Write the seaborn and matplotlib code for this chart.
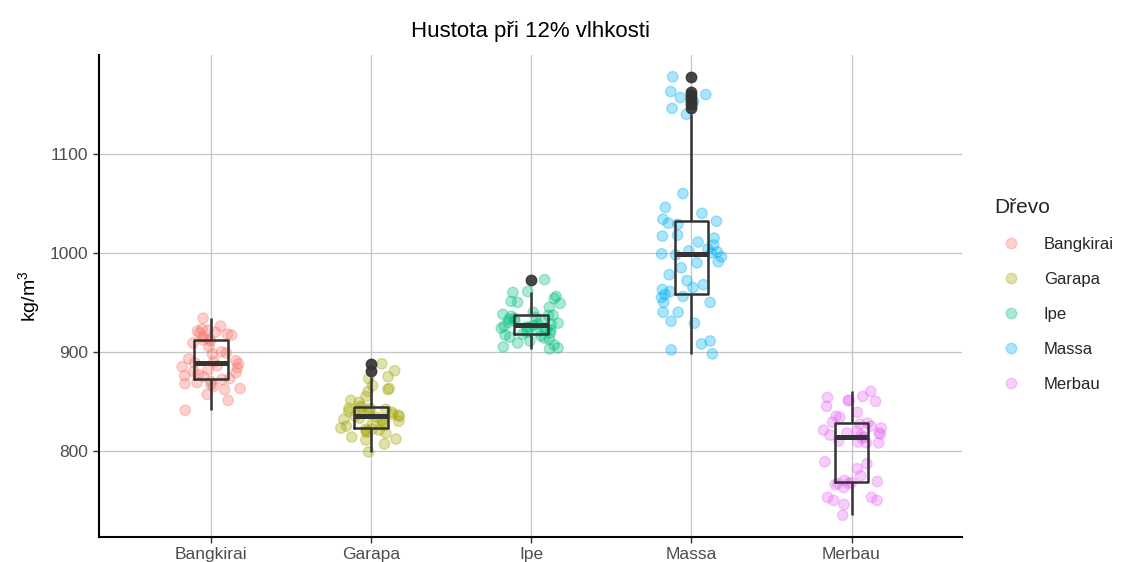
import numpy as np
import pandas as pd
import matplotlib
matplotlib.use("Agg")
import matplotlib.pyplot as plt
from matplotlib.lines import Line2D
import seaborn as sns

# Wood species and measured densities at 12 % moisture (kg/m3)
species = ["Bangkirai", "Garapa", "Ipe", "Massa", "Merbau"]

bangkirai = [841, 851, 857, 862, 863, 865, 867, 868, 869, 870, 872, 873, 875, 876,
             877, 879, 880, 882, 884, 885, 886, 888, 889, 890, 891, 893, 898, 899,
             900, 905, 909, 911, 912, 913, 915, 917, 918, 919, 920, 921, 922, 923,
             926, 934]
garapa = [799, 807, 811, 812, 814, 818, 819, 820, 821, 822, 822, 823, 825, 826,
          828, 829, 830, 831, 832, 833, 834, 835, 835, 836, 837, 838, 839, 840,
          840, 841, 842, 843, 843, 844, 845, 849, 851, 855, 860, 862, 863, 866,
          873, 875, 881, 888]
ipe = [903, 904, 905, 907, 909, 911, 913, 914, 915, 916, 917, 918, 919, 920,
       921, 922, 922, 923, 924, 925, 925, 926, 927, 928, 928, 929, 930, 931,
       932, 933, 934, 935, 936, 937, 937, 938, 940, 945, 949, 950, 951, 954,
       956, 960, 961, 973]
massa = [898, 902, 908, 911, 929, 931, 940, 940, 950, 950, 955, 956, 958, 961,
         963, 965, 968, 972, 978, 985, 990, 991, 996, 998, 999, 1000, 1001, 1002,
         1004, 1008, 1011, 1015, 1017, 1018, 1029, 1030, 1032, 1034, 1040, 1046,
         1060, 1140, 1146, 1150, 1153, 1157, 1160, 1163, 1178]
merbau = [735, 746, 750, 750, 753, 753, 763, 766, 767, 767, 768, 769, 770, 775,
          782, 787, 789, 808, 808, 809, 810, 813, 814, 816, 816, 817, 818, 818,
          820, 821, 823, 825, 827, 828, 829, 834, 835, 839, 845, 850, 851, 851,
          854, 855, 860]

colors = ["#F8766D", "#A3A500", "#00BF7D", "#00B0F6", "#E76BF3"]
y_ticks = [800, 900, 1000, 1100]

values = [bangkirai, garapa, ipe, massa, merbau]
df = pd.DataFrame({
    "Dřevo": np.repeat(species, [len(v) for v in values]),
    "hustota": np.concatenate(values),
})

sns.set_theme(style="white")
plt.rcParams["font.family"] = ["Liberation Sans", "DejaVu Sans"]
plt.rcParams["mathtext.fontset"] = "custom"
plt.rcParams["mathtext.rm"] = "Liberation Sans"
plt.rcParams["mathtext.it"] = "Liberation Sans"

fig = plt.figure(figsize=(11.27, 5.62), dpi=100)
ax = fig.add_axes([0.0878, 0.0445, 0.7658, 0.8577])

np.random.seed(7)
sns.stripplot(data=df, x="Dřevo", y="hustota", hue="Dřevo", order=species,
              hue_order=species, palette=colors, jitter=0.19, size=7.5,
              alpha=0.33, linewidth=1.0, edgecolor="face", legend=False,
              ax=ax, zorder=2)

sns.boxplot(data=df, x="Dřevo", y="hustota", order=species, fill=False,
            color="#333333", width=0.21, linewidth=1.8, whis=1.5,
            showcaps=False,
            medianprops=dict(linewidth=3.6, color="#333333"),
            flierprops=dict(marker="o", markersize=7.5,
                            markerfacecolor="#333333",
                            markeredgecolor="#333333", alpha=0.9),
            ax=ax)

ax.set_xlim(-0.7, 4.69)
ax.set_ylim(713, 1200)
ax.set_yticks(y_ticks)
ax.grid(True, color="#C4C4C4", linewidth=0.9)
ax.set_axisbelow(True)
for side in ["top", "right"]:
    ax.spines[side].set_visible(False)
for side in ["left", "bottom"]:
    ax.spines[side].set_color("black")
    ax.spines[side].set_linewidth(1.5)
ax.tick_params(axis="both", length=4, width=1, color="#333333",
               labelcolor="#4D4D4D", labelsize=12.5, left=True, bottom=True)

ax.set_xlabel("")
ax.set_ylabel("kg/m$^3$", fontsize=14, color="black", labelpad=6)
ax.set_title("Hustota při 12% vlhkosti", fontsize=16, pad=13, color="black")

handles = [Line2D([0], [0], marker="o", linestyle="", markersize=7.5,
                  markerfacecolor=c, markeredgecolor=c, alpha=0.33)
           for c in colors]
leg = fig.legend(handles, species, title="Dřevo", loc="upper left",
                 bbox_to_anchor=(0.876, 0.66), frameon=False,
                 fontsize=12, title_fontsize=15, labelspacing=1.2,
                 handletextpad=1.0, borderaxespad=0)
leg._legend_box.align = "left"

fig.savefig("out.png", dpi=100)
